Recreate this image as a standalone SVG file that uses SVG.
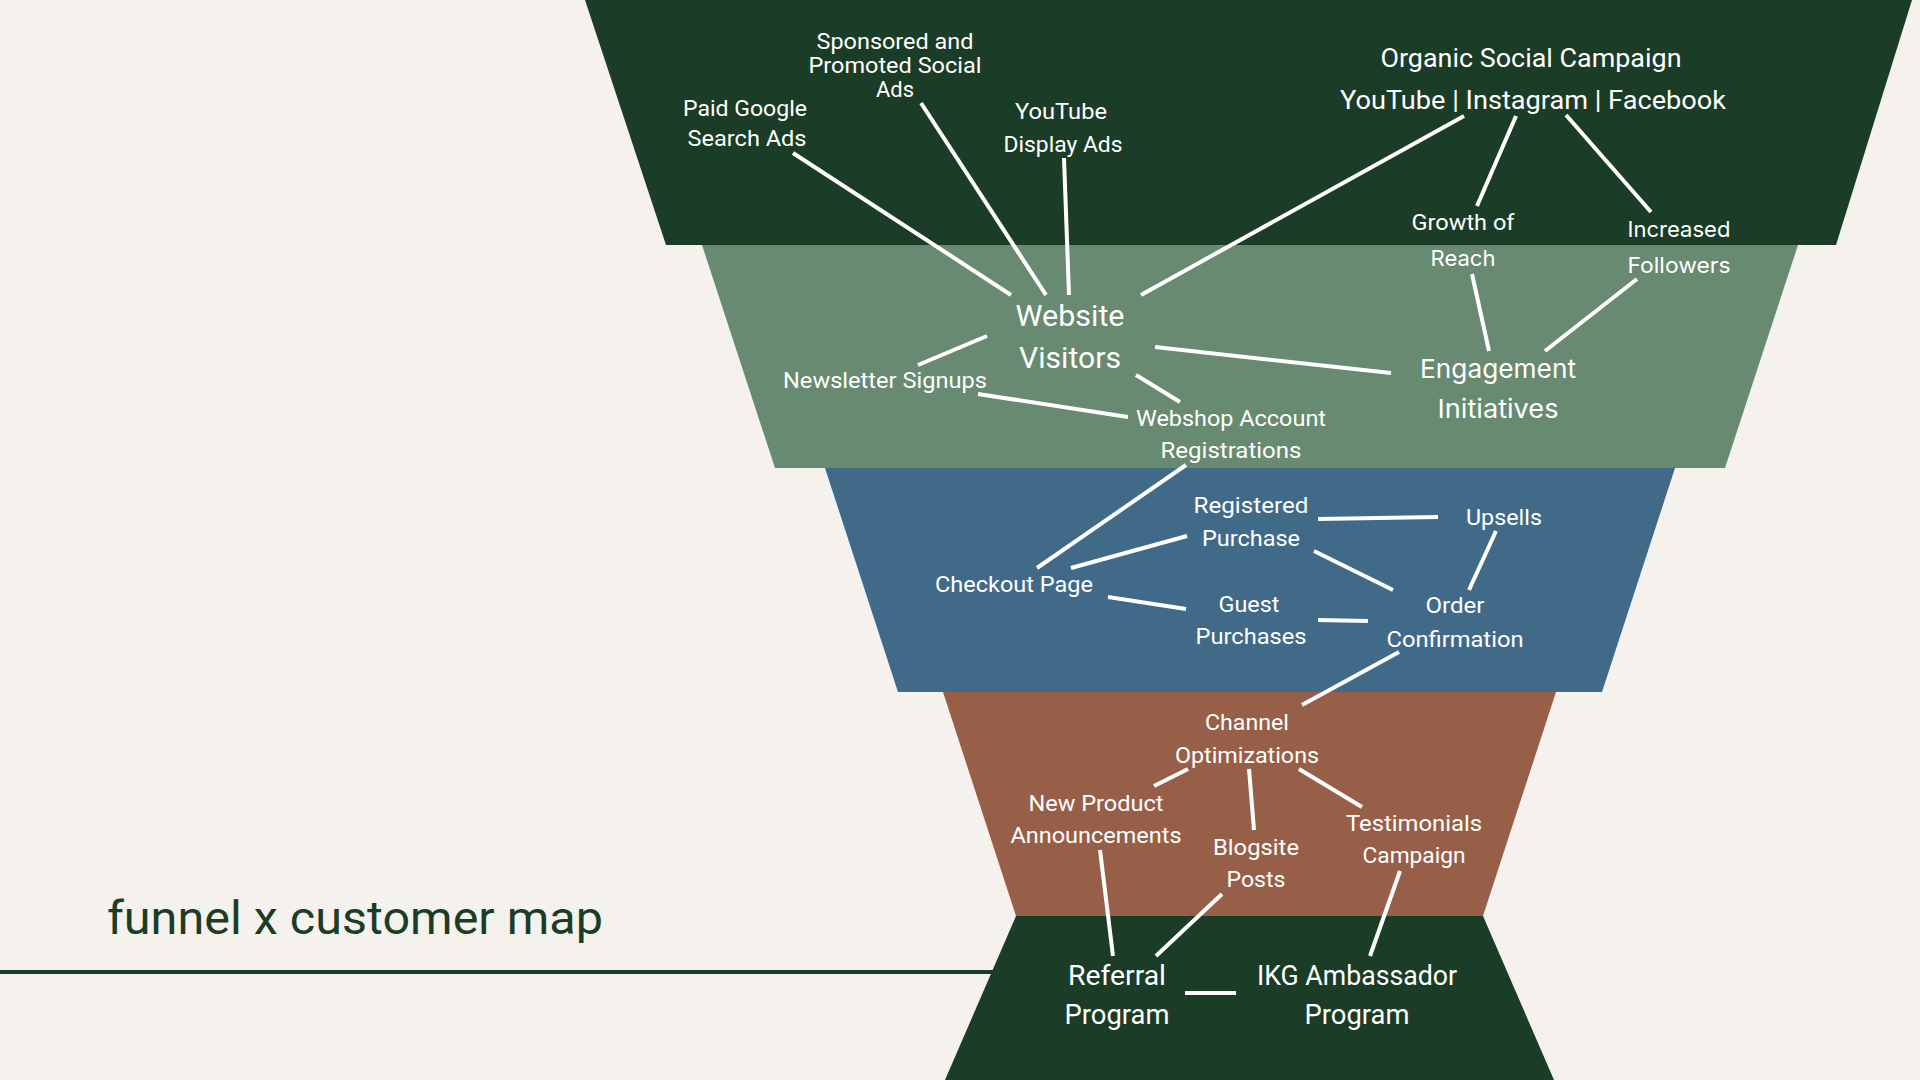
<svg xmlns="http://www.w3.org/2000/svg" width="1920" height="1080" viewBox="0 0 1920 1080">
<style>
.bg{fill:#f5f2ed}
.dk{fill:#1b3c26}
.sg{fill:#688a70}
.bl{fill:#416a89}
.br{fill:#985f48}
text{fill:#ffffff;font-family:Roboto,"Liberation Sans",sans-serif;font-size:22px;text-anchor:middle;lengthAdjust:spacingAndGlyphs}
.in{font-family:Inter,"Noto Sans",sans-serif}
.b26{font-size:26px}
.b27{font-size:27px}
.b30{font-size:30px}
.title{fill:#1b3c26;font-size:46px;text-anchor:start}
#connectors line{stroke:#ffffff;stroke-width:4;stroke-linecap:butt}
</style>
<rect class="bg" x="0" y="0" width="1920" height="1080"/>
<g id="funnel">
<rect class="dk" x="0" y="970" width="1000" height="4"/>
<polygon class="dk" points="585,0 1912,0 1836,245 666,245"/>
<polygon class="sg" points="702,245 1798,245 1725,468 775,468"/>
<polygon class="bl" points="825,468 1675,468 1602,692 898,692"/>
<polygon class="br" points="943,692 1556,692 1483,916 1016,916"/>
<polygon class="dk" points="1016,916 1483,916 1554,1080 945,1080"/>
</g>
<text class="title" x="107" y="934" textLength="496" lengthAdjust="spacingAndGlyphs">funnel x customer map</text>
<g id="connectors">
<line x1="793" y1="153" x2="1011" y2="295"/>
<line x1="921" y1="103" x2="1046" y2="295"/>
<line x1="1064" y1="158" x2="1069" y2="295"/>
<line x1="1464" y1="116" x2="1141" y2="295"/>
<line x1="1516" y1="116" x2="1477" y2="206"/>
<line x1="1566" y1="115" x2="1651" y2="212"/>
<line x1="1472" y1="274" x2="1489" y2="351"/>
<line x1="1637" y1="279" x2="1545" y2="351"/>
<line x1="1155" y1="347" x2="1391" y2="373"/>
<line x1="987" y1="336" x2="918" y2="365"/>
<line x1="1136" y1="375" x2="1180" y2="402"/>
<line x1="978" y1="394" x2="1128" y2="417"/>
<line x1="1186" y1="465" x2="1037" y2="568"/>
<line x1="1071" y1="568" x2="1187" y2="536"/>
<line x1="1108" y1="597" x2="1186" y2="609"/>
<line x1="1318" y1="519" x2="1438" y2="517"/>
<line x1="1314" y1="551" x2="1393" y2="590"/>
<line x1="1496" y1="531" x2="1469" y2="590"/>
<line x1="1318" y1="620" x2="1368" y2="621"/>
<line x1="1399" y1="652" x2="1302" y2="705"/>
<line x1="1188" y1="769" x2="1154" y2="786"/>
<line x1="1249" y1="769" x2="1254" y2="830"/>
<line x1="1299" y1="769" x2="1362" y2="807"/>
<line x1="1100" y1="850" x2="1113" y2="956"/>
<line x1="1222" y1="894" x2="1156" y2="956"/>
<line x1="1400" y1="871" x2="1370" y2="956"/>
<line x1="1185" y1="993" x2="1236" y2="993"/>
</g>
<g id="sponsored"><text x="895" y="49" textLength="157" lengthAdjust="spacingAndGlyphs">Sponsored and</text><text x="895" y="73" textLength="173" lengthAdjust="spacingAndGlyphs">Promoted Social</text><text x="895" y="97" textLength="38" lengthAdjust="spacingAndGlyphs">Ads</text></g>
<g id="paid-google"><text x="745" y="116" textLength="124" lengthAdjust="spacingAndGlyphs">Paid Google</text><text x="747" y="146" textLength="119" lengthAdjust="spacingAndGlyphs">Search Ads</text></g>
<g id="youtube-display"><text x="1061" y="119" textLength="92" lengthAdjust="spacingAndGlyphs">YouTube</text><text x="1063" y="152" textLength="119" lengthAdjust="spacingAndGlyphs">Display Ads</text></g>
<g id="organic"><text class="b26" x="1531" y="67" textLength="301" lengthAdjust="spacingAndGlyphs">Organic Social Campaign</text><text class="b26" x="1533" y="109" textLength="386" lengthAdjust="spacingAndGlyphs">YouTube | Instagram | Facebook</text></g>
<g id="growth"><text x="1463" y="230" textLength="103" lengthAdjust="spacingAndGlyphs">Growth of</text><text class="in" x="1463" y="266" font-size="21" textLength="65" lengthAdjust="spacingAndGlyphs">Reach</text></g>
<g id="followers"><text class="in" x="1679" y="237" font-size="21" textLength="103" lengthAdjust="spacingAndGlyphs">Increased</text><text class="in" x="1679" y="273" font-size="21" textLength="103" lengthAdjust="spacingAndGlyphs">Followers</text></g>
<g id="website"><text class="b30" x="1070" y="326" textLength="109" lengthAdjust="spacingAndGlyphs">Website</text><text class="b30" x="1070" y="368" textLength="102" lengthAdjust="spacingAndGlyphs">Visitors</text></g>
<g id="engagement"><text class="in b26" x="1498" y="378" textLength="156" lengthAdjust="spacingAndGlyphs">Engagement</text><text class="in b26" x="1498" y="418" textLength="121" lengthAdjust="spacingAndGlyphs">Initiatives</text></g>
<g id="newsletter"><text x="885" y="388" textLength="204" lengthAdjust="spacingAndGlyphs">Newsletter Signups</text></g>
<g id="webshop"><text x="1231" y="426" textLength="190" lengthAdjust="spacingAndGlyphs">Webshop Account</text><text x="1231" y="458" textLength="141" lengthAdjust="spacingAndGlyphs">Registrations</text></g>
<g id="registered"><text x="1251" y="513" textLength="115" lengthAdjust="spacingAndGlyphs">Registered</text><text x="1251" y="546" textLength="98" lengthAdjust="spacingAndGlyphs">Purchase</text></g>
<g id="upsells"><text x="1504" y="525" textLength="76" lengthAdjust="spacingAndGlyphs">Upsells</text></g>
<g id="checkout"><text x="1014" y="592" textLength="158" lengthAdjust="spacingAndGlyphs">Checkout Page</text></g>
<g id="guest"><text x="1249" y="612" textLength="61" lengthAdjust="spacingAndGlyphs">Guest</text><text x="1251" y="644" textLength="111" lengthAdjust="spacingAndGlyphs">Purchases</text></g>
<g id="order"><text x="1455" y="613" textLength="59" lengthAdjust="spacingAndGlyphs">Order</text><text x="1455" y="647" textLength="137" lengthAdjust="spacingAndGlyphs">Confirmation</text></g>
<g id="channel"><text x="1247" y="730" textLength="84" lengthAdjust="spacingAndGlyphs">Channel</text><text x="1247" y="763" textLength="144" lengthAdjust="spacingAndGlyphs">Optimizations</text></g>
<g id="new-product"><text x="1096" y="811" textLength="135" lengthAdjust="spacingAndGlyphs">New Product</text><text x="1096" y="843" textLength="171" lengthAdjust="spacingAndGlyphs">Announcements</text></g>
<g id="blogsite"><text x="1256" y="855" textLength="86" lengthAdjust="spacingAndGlyphs">Blogsite</text><text x="1256" y="887" textLength="59" lengthAdjust="spacingAndGlyphs">Posts</text></g>
<g id="testimonials"><text x="1414" y="831" textLength="136" lengthAdjust="spacingAndGlyphs">Testimonials</text><text x="1414" y="863" textLength="103" lengthAdjust="spacingAndGlyphs">Campaign</text></g>
<g id="referral"><text class="b27" x="1117" y="985" textLength="98" lengthAdjust="spacingAndGlyphs">Referral</text><text class="b27" x="1117" y="1024" textLength="105" lengthAdjust="spacingAndGlyphs">Program</text></g>
<g id="ambassador"><text class="b27" x="1357" y="985" textLength="200" lengthAdjust="spacingAndGlyphs">IKG Ambassador</text><text class="b27" x="1357" y="1024" textLength="105" lengthAdjust="spacingAndGlyphs">Program</text></g>
</svg>
